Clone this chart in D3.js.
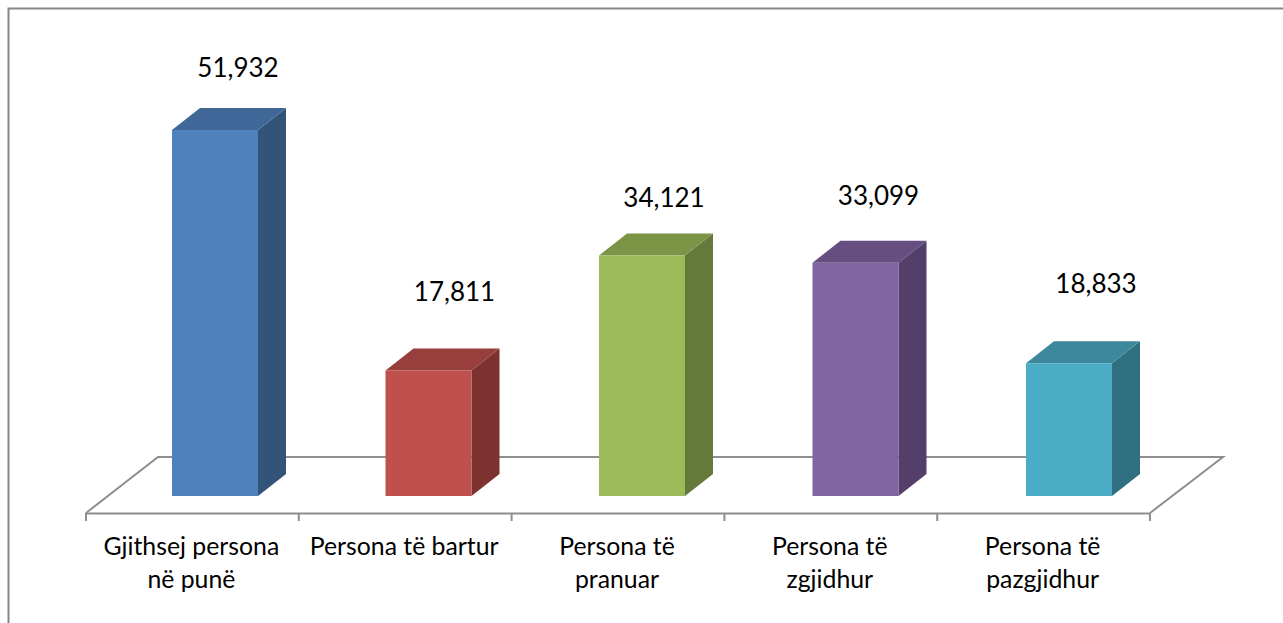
<!DOCTYPE html>
<meta charset="utf-8">
<script src="https://d3js.org/d3.v7.min.js"></script>
<style>
  body { margin: 0; background: #fff; overflow: hidden; }
  text { font-family: Lato, "Open Sans", sans-serif; fill: #000; }
</style>
<div id="my_dataviz"></div>
<script>

// data
const categories = ["Gjithsej persona\nnë punë", "Persona të bartur", "Persona të\npranuar", "Persona të\nzgjidhur", "Persona të\npazgjidhur"];
const values = [51932, 17811, 34121, 33099, 18833];
const frontColors = ["#4f81bd", "#c0504d", "#9bbb59", "#8064a2", "#4bacc6"];
const sideColors = ["#325479", "#7d3230", "#64793a", "#533f6a", "#306f80"];
const topColors = ["#3f6797", "#983f3d", "#7b9446", "#664f80", "#3c899d"];

// value labels were dragged by hand in the original chart
const labelDx = [23, 26, 22, 23, 27];
const labelDy = [-53, -69, -49, -58, -70];

const width = 1283, height = 623;
const depthX = 28, depthY = 22;      // offset of the 3d box back face
const floorX = 72, floorY = 56;      // offset of the chart floor back edge
const axisY = 513, barBase = 496;
const barW = 86;

const svg = d3.select("#my_dataviz").append("svg")
    .attr("width", width)
    .attr("height", height);

// outer chart border, runs off the right and bottom of the picture
svg.append("rect")
    .attr("x", 8.5).attr("y", 8.5)
    .attr("width", width + 20).attr("height", height + 20)
    .attr("fill", "none")
    .attr("stroke", "#868686")
    .attr("stroke-width", 2);

const x = d3.scaleBand()
    .domain(categories)
    .range([86, 1150]);

// left edge of each bar
const barX = d3.scalePoint()
    .domain(categories)
    .range([172, 1026]);

const y = d3.scaleLinear()
    .domain([0, 51932])
    .range([barBase, 130]);

// floor
svg.append("path")
    .attr("d", d3.line()([
      [x.range()[0], axisY],
      [x.range()[0] + floorX, axisY - floorY],
      [x.range()[1] + floorX + 1, axisY - floorY],
      [x.range()[1], axisY]
    ]))
    .attr("fill", "none")
    .attr("stroke", "#8e8e8e")
    .attr("stroke-width", 2);

// category axis, ticks sit on the band edges
const axis = svg.append("g")
    .attr("transform", "translate(0," + axisY + ")")
    .call(d3.axisBottom(x).tickSize(0).tickFormat(""));
axis.select(".domain")
    .attr("stroke", "#8e8e8e")
    .attr("stroke-width", 2);

axis.selectAll(".edge")
  .data(d3.range(categories.length + 1))
  .enter()
  .append("line")
    .attr("x1", i => x.range()[0] + i * x.step())
    .attr("x2", i => x.range()[0] + i * x.step())
    .attr("y1", 0)
    .attr("y2", 8)
    .attr("stroke", "#8e8e8e")
    .attr("stroke-width", 2);

const labels = svg.append("g").selectAll("text")
  .data(categories)
  .enter()
  .append("text")
    .attr("text-anchor", "middle")
    .style("font-size", "24.8px");

labels.selectAll("tspan")
  .data(d => d.split("\n").map(line => ({line: line, cat: d})))
  .enter()
  .append("tspan")
    .attr("x", d => x(d.cat) + x.bandwidth() / 2 - 1)
    .attr("y", (d, i) => 555 + i * 33)
    .text(d => d.line);

// bars
const bars = svg.append("g").selectAll("g")
  .data(values.map((v, i) => ({value: v, cat: categories[i], i: i})))
  .enter()
  .append("g");

bars.append("path")
    .attr("fill", d => sideColors[d.i])
    .attr("d", d => {
      const x1 = barX(d.cat) + barW;
      return d3.line()([[x1, y(d.value)], [x1 + depthX, y(d.value) - depthY], [x1 + depthX, barBase - depthY], [x1, barBase]]) + "Z";
    });

bars.append("path")
    .attr("fill", d => topColors[d.i])
    .attr("d", d => {
      const x0 = barX(d.cat);
      return d3.line()([[x0, y(d.value)], [x0 + depthX, y(d.value) - depthY], [x0 + barW + depthX, y(d.value) - depthY], [x0 + barW, y(d.value)]]) + "Z";
    });

bars.append("rect")
    .attr("x", d => barX(d.cat))
    .attr("y", d => y(d.value))
    .attr("width", barW)
    .attr("height", d => barBase - y(d.value))
    .attr("fill", d => frontColors[d.i]);

// value labels
bars.append("text")
    .attr("x", d => barX(d.cat) + barW / 2 + labelDx[d.i])
    .attr("y", d => y(d.value) + labelDy[d.i])
    .attr("text-anchor", "middle")
    .style("font-size", "26px")
    .text(d => d3.format(",")(d.value));

</script>
